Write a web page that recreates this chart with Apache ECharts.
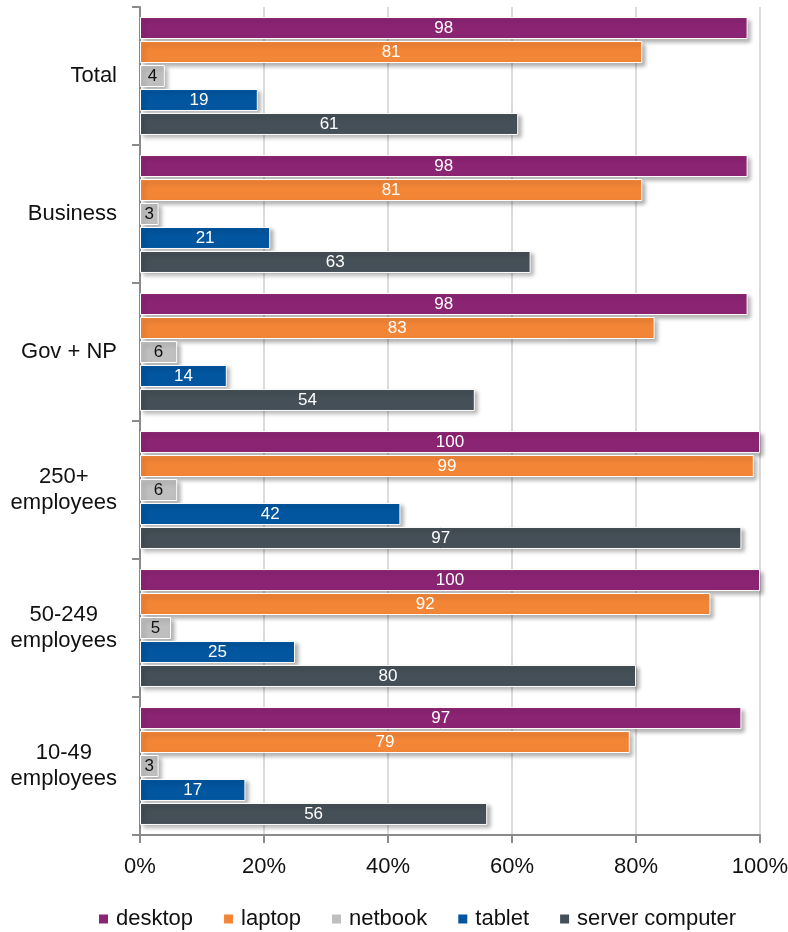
<!DOCTYPE html>
<html>
<head>
<meta charset="utf-8">
<script src="https://cdn.jsdelivr.net/npm/echarts@6/dist/echarts.min.js"></script>
<style>
  html, body { margin: 0; padding: 0; background: #ffffff; }
  #chart { width: 788px; height: 932px; }
</style>
</head>
<body>
<div id="chart"></div>
<script>
// Device ownership by organisation type and size (% of organisations)
var categories = ['Total', 'Business', 'Gov + NP', '250+\nemployees', '50-249\nemployees', '10-49\nemployees'];
var seriesNames = ['desktop', 'laptop', 'netbook', 'tablet', 'server computer'];
var desktop = [98, 98, 98, 100, 100, 97];
var laptop = [81, 81, 83, 99, 92, 79];
var netbook = [4, 3, 6, 6, 5, 3];
var tablet = [19, 21, 14, 42, 25, 17];
var serverComputer = [61, 63, 54, 97, 80, 56];
var xTicks = [0, 20, 40, 60, 80, 100];

var seriesValues = [desktop, laptop, netbook, tablet, serverComputer];
var colors = ['#8C2474', '#F38536', '#BFBFBF', '#02559F', '#454F57'];
var labelColors = ['#ffffff', '#ffffff', '#111111', '#ffffff', '#ffffff'];

var FONT = '"Liberation Sans", Arial, sans-serif';

var chart = echarts.init(document.getElementById('chart'), null, { renderer: 'canvas' });

var series = seriesNames.map(function (name, i) {
  return {
    name: name,
    type: 'bar',
    data: seriesValues[i],
    barWidth: 22,
    barGap: '9%',
    itemStyle: {
      color: colors[i],
      borderColor: '#ffffff',
      borderWidth: 1,
      shadowColor: 'rgba(0,0,0,0.3)',
      shadowBlur: 4,
      shadowOffsetX: 3,
      shadowOffsetY: 3
    },
    label: {
      show: true,
      position: 'inside',
      color: labelColors[i],
      fontFamily: FONT,
      fontSize: 17
    },
    emphasis: { disabled: true },
    animation: false
  };
});

chart.setOption({
  animation: false,
  color: colors,
  grid: { left: 140, right: 28, top: 7, bottom: 97, containLabel: false, outerBoundsMode: 'none' },
  legend: {
    data: seriesNames,
    left: 97,
    top: 908,
    width: 700,
    padding: 0,
    icon: 'rect',
    itemWidth: 11,
    itemHeight: 11,
    itemGap: 29,
    textStyle: { fontFamily: FONT, fontSize: 22, color: '#111111', padding: [0, 0, 0, 2] }
  },
  xAxis: {
    type: 'value',
    min: xTicks[0],
    max: xTicks[xTicks.length - 1],
    interval: xTicks[1] - xTicks[0],
    axisLine: { show: true, lineStyle: { color: '#8a8a8a', width: 2 } },
    axisTick: { show: true, length: 8, lineStyle: { color: '#8a8a8a', width: 2 } },
    axisLabel: {
      margin: 21,
      formatter: '{value}%',
      fontFamily: FONT,
      fontSize: 22,
      color: '#111111'
    },
    splitLine: { show: true, lineStyle: { color: '#dcdcdc', width: 2 } }
  },
  yAxis: {
    type: 'category',
    data: categories,
    inverse: true,
    axisLine: { show: true, lineStyle: { color: '#8a8a8a', width: 2 } },
    axisTick: { show: true, length: 8, lineStyle: { color: '#8a8a8a', width: 2 } },
    axisLabel: {
      margin: 23,
      align: 'right',
      fontFamily: FONT,
      fontSize: 22,
      color: '#111111',
      lineHeight: 26,
      formatter: function (v) {
        return v.split('\n').map(function (s) { return '{c|' + s + '}'; }).join('\n');
      },
      rich: {
        c: { align: 'center', fontFamily: FONT, fontSize: 22, color: '#111111', lineHeight: 26 }
      }
    },
    splitLine: { show: false }
  },
  series: series
});
</script>
</body>
</html>
